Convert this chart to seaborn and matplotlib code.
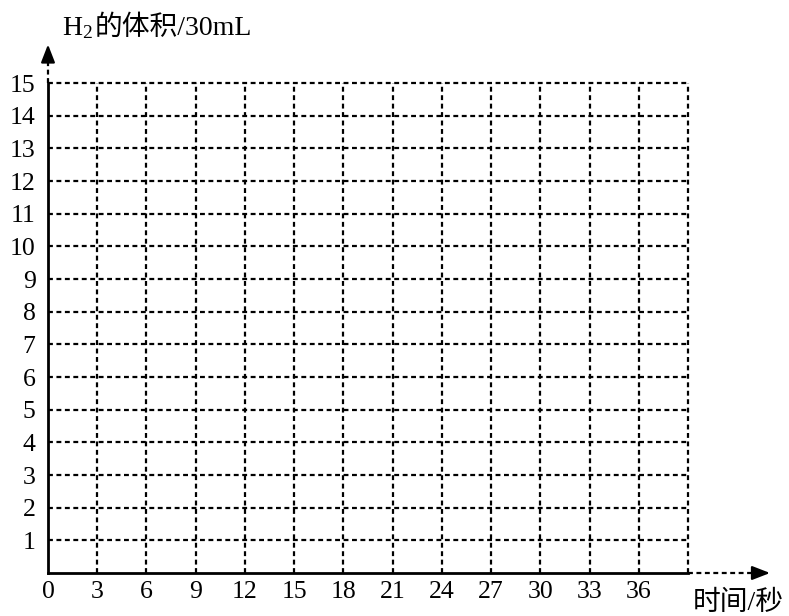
import matplotlib
matplotlib.use("Agg")
import matplotlib.pyplot as plt
import seaborn as sns
import numpy as np

# data (empty grid chart)
x_ticks = [0, 3, 6, 9, 12, 15, 18, 21, 24, 27, 30, 33, 36, 39]
x_labels = ["0", "3", "6", "9", "12", "15", "18", "21", "24", "27", "30", "33", "36", ""]
y_ticks = [1, 2, 3, 4, 5, 6, 7, 8, 9, 10, 11, 12, 13, 14, 15]
y_labels = [str(v) for v in y_ticks]
x_title = "时间/秒"
y_title_rest = "的体积/30mL"

sns.set_theme(style="white")
plt.rcParams['font.family'] = ['Liberation Serif', 'Noto Sans CJK SC', 'DejaVu Sans']
plt.rcParams['mathtext.fontset'] = 'custom'
plt.rcParams['mathtext.rm'] = 'Liberation Serif'
plt.rcParams['mathtext.it'] = 'Liberation Serif'

fig = plt.figure(figsize=(7.89, 6.16), dpi=100)
ax = fig.add_axes([48/789, 1-573/616, 640/789, 490/616])
ax.set_xlim(0, 39)
ax.set_ylim(0, 15)

dot = (0, (2.2, 1.6))
# grid
ax.vlines(x_ticks[1:], 0, 15, colors='black', linewidth=1.6, linestyles=[dot], clip_on=False)
ax.hlines(y_ticks, 0, 39, colors='black', linewidth=1.6, linestyles=[dot], clip_on=False)

ax.set_xticks(x_ticks)
ax.set_xticklabels(x_labels, fontsize=18.5)
ax.set_yticks(y_ticks)
ax.set_yticklabels(y_labels, fontsize=18.5)
ax.tick_params(axis='both', length=0, colors='black')
ax.tick_params(axis='x', pad=6)
ax.tick_params(axis='y', pad=9)

sns.despine(ax=ax, top=True, right=True)
for s in ['left', 'bottom']:
    ax.spines[s].set_color('black')
    ax.spines[s].set_linewidth(2.0)
    ax.spines[s].set_zorder(5)

# axis extensions with arrows
ax.plot([0, 0], [15, 15.75], color='black', linewidth=1.6, linestyle=dot, clip_on=False)
ax.annotate('', xy=(0, 16.18), xytext=(0, 15.68), xycoords='data',
            arrowprops=dict(arrowstyle='-|>,head_length=0.9,head_width=0.35', color='black',
                            lw=1.6, shrinkA=0, shrinkB=0), annotation_clip=False)
ax.plot([39, 43.3], [0, 0], color='black', linewidth=1.6, linestyle=dot, clip_on=False)
ax.annotate('', xy=(44.0, 0), xytext=(43.0, 0), xycoords='data',
            arrowprops=dict(arrowstyle='-|>,head_length=0.9,head_width=0.35', color='black',
                            lw=1.6, shrinkA=0, shrinkB=0), annotation_clip=False)

# titles
t1 = fig.text(62/789, 1-35/616, r"H$_2$", fontsize=20, ha='left', va='baseline', color='black')
ax.annotate(y_title_rest, xy=(1, 0), xycoords=t1, xytext=(1, 0), textcoords='offset points',
            fontsize=20, ha='left', va='bottom', color='black')
fig.text(738/789, 1-603/616, x_title, fontsize=20, ha='center', va='center', color='black')

fig.savefig("out.png", dpi=100)
